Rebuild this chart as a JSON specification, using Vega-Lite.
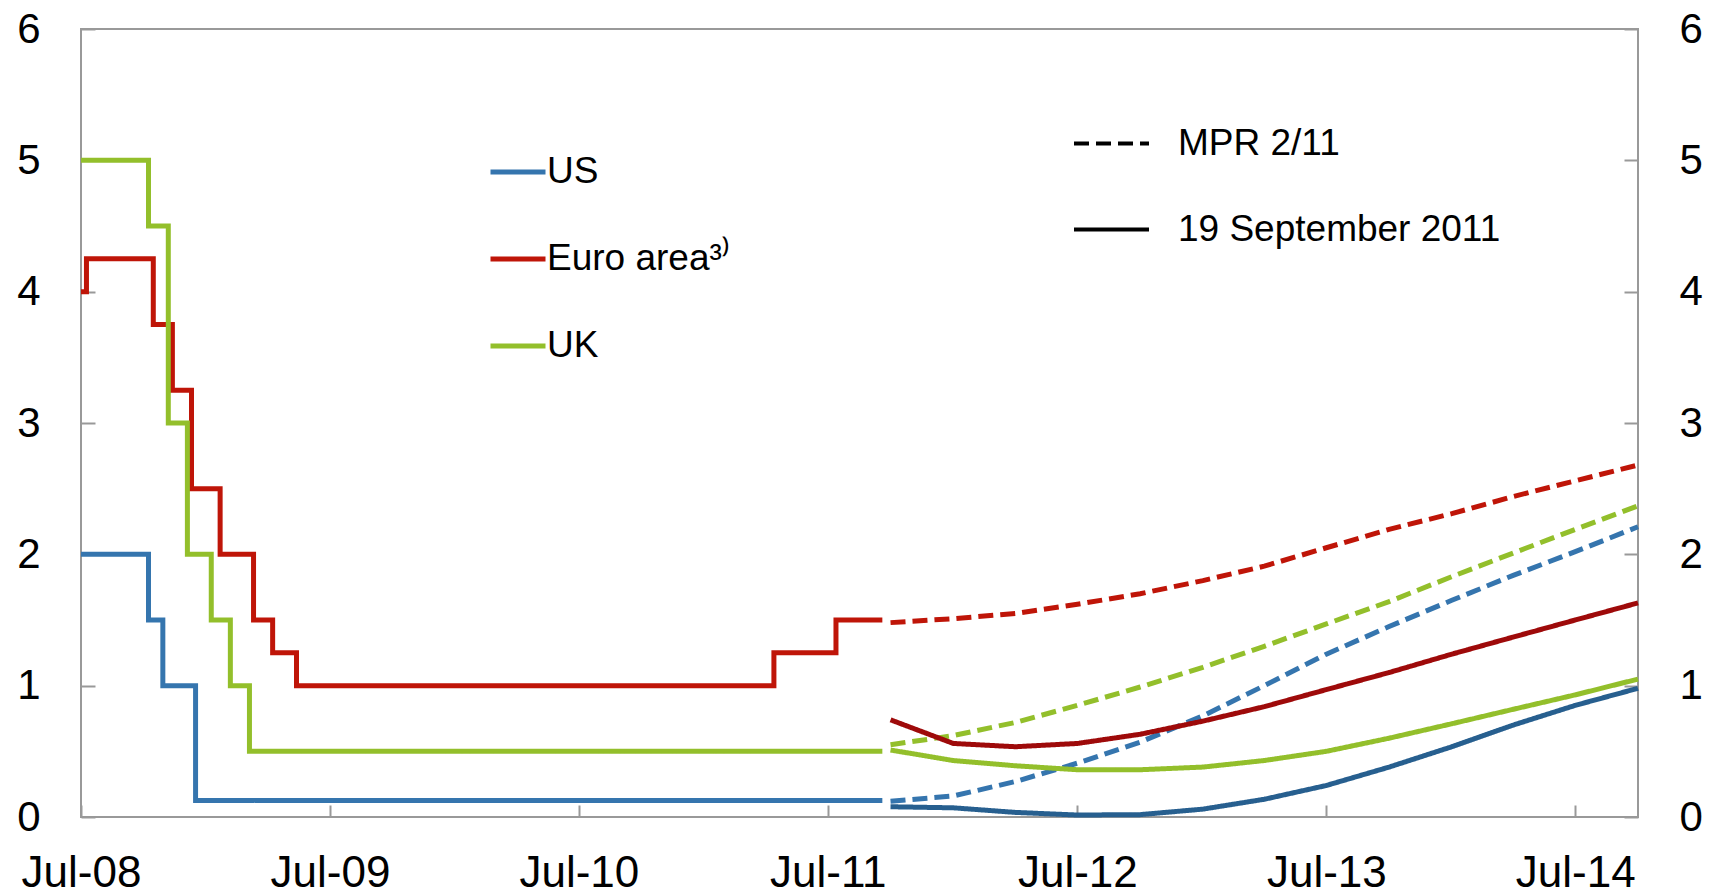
{
  "$schema": "https://vega.github.io/schema/vega-lite/v6.json",
  "width": 1557,
  "height": 788,
  "autosize": {"type": "none"},
  "padding": {"left": 81, "top": 29, "right": 72, "bottom": 79},
  "config": {
    "font": "Liberation Sans",
    "view": {"stroke": "#999999", "strokeWidth": 2},
    "axis": {
      "labelFont": "Liberation Sans",
      "labelColor": "black",
      "tickColor": "#999999",
      "tickWidth": 2,
      "domain": false,
      "grid": false,
      "title": null,
      "labelOverlap": false,
      "labelFlush": false
    },
    "legend": {
      "labelFont": "Liberation Sans",
      "labelFontSize": 37,
      "labelColor": "black",
      "labelLimit": 0,
      "padding": 0,
      "title": null,
      "orient": "none",
      "symbolType": "stroke"
    }
  },
  "data": {
    "values": [
      {"date": "2008-07-01", "value": 2.0, "c": "US", "s": "History"},
      {"date": "2008-10-08", "value": 1.5, "c": "US", "s": "History"},
      {"date": "2008-10-29", "value": 1.0, "c": "US", "s": "History"},
      {"date": "2008-12-16", "value": 0.125, "c": "US", "s": "History"},
      {"date": "2011-09-19", "value": 0.125, "c": "US", "s": "History"},
      {"date": "2008-07-01", "value": 4.0, "c": "Euro area³⁾", "s": "History"},
      {"date": "2008-07-09", "value": 4.25, "c": "Euro area³⁾", "s": "History"},
      {"date": "2008-10-15", "value": 3.75, "c": "Euro area³⁾", "s": "History"},
      {"date": "2008-11-12", "value": 3.25, "c": "Euro area³⁾", "s": "History"},
      {"date": "2008-12-10", "value": 2.5, "c": "Euro area³⁾", "s": "History"},
      {"date": "2009-01-21", "value": 2.0, "c": "Euro area³⁾", "s": "History"},
      {"date": "2009-03-11", "value": 1.5, "c": "Euro area³⁾", "s": "History"},
      {"date": "2009-04-08", "value": 1.25, "c": "Euro area³⁾", "s": "History"},
      {"date": "2009-05-13", "value": 1.0, "c": "Euro area³⁾", "s": "History"},
      {"date": "2011-04-13", "value": 1.25, "c": "Euro area³⁾", "s": "History"},
      {"date": "2011-07-13", "value": 1.5, "c": "Euro area³⁾", "s": "History"},
      {"date": "2011-09-19", "value": 1.5, "c": "Euro area³⁾", "s": "History"},
      {"date": "2008-07-01", "value": 5.0, "c": "UK", "s": "History"},
      {"date": "2008-10-08", "value": 4.5, "c": "UK", "s": "History"},
      {"date": "2008-11-06", "value": 3.0, "c": "UK", "s": "History"},
      {"date": "2008-12-04", "value": 2.0, "c": "UK", "s": "History"},
      {"date": "2009-01-08", "value": 1.5, "c": "UK", "s": "History"},
      {"date": "2009-02-05", "value": 1.0, "c": "UK", "s": "History"},
      {"date": "2009-03-05", "value": 0.5, "c": "UK", "s": "History"},
      {"date": "2011-09-19", "value": 0.5, "c": "UK", "s": "History"},

      {"date": "2011-10-01", "value": 1.48, "c": "Euro area³⁾", "s": "MPR 2/11"},
      {"date": "2012-01-01", "value": 1.51, "c": "Euro area³⁾", "s": "MPR 2/11"},
      {"date": "2012-04-01", "value": 1.55, "c": "Euro area³⁾", "s": "MPR 2/11"},
      {"date": "2012-07-01", "value": 1.62, "c": "Euro area³⁾", "s": "MPR 2/11"},
      {"date": "2012-10-01", "value": 1.70, "c": "Euro area³⁾", "s": "MPR 2/11"},
      {"date": "2013-01-01", "value": 1.80, "c": "Euro area³⁾", "s": "MPR 2/11"},
      {"date": "2013-04-01", "value": 1.91, "c": "Euro area³⁾", "s": "MPR 2/11"},
      {"date": "2013-07-01", "value": 2.05, "c": "Euro area³⁾", "s": "MPR 2/11"},
      {"date": "2013-10-01", "value": 2.19, "c": "Euro area³⁾", "s": "MPR 2/11"},
      {"date": "2014-01-01", "value": 2.31, "c": "Euro area³⁾", "s": "MPR 2/11"},
      {"date": "2014-04-01", "value": 2.44, "c": "Euro area³⁾", "s": "MPR 2/11"},
      {"date": "2014-07-01", "value": 2.56, "c": "Euro area³⁾", "s": "MPR 2/11"},
      {"date": "2014-10-01", "value": 2.68, "c": "Euro area³⁾", "s": "MPR 2/11"},

      {"date": "2011-10-01", "value": 0.55, "c": "UK", "s": "MPR 2/11"},
      {"date": "2012-01-01", "value": 0.62, "c": "UK", "s": "MPR 2/11"},
      {"date": "2012-04-01", "value": 0.72, "c": "UK", "s": "MPR 2/11"},
      {"date": "2012-07-01", "value": 0.85, "c": "UK", "s": "MPR 2/11"},
      {"date": "2012-10-01", "value": 0.99, "c": "UK", "s": "MPR 2/11"},
      {"date": "2013-01-01", "value": 1.14, "c": "UK", "s": "MPR 2/11"},
      {"date": "2013-04-01", "value": 1.30, "c": "UK", "s": "MPR 2/11"},
      {"date": "2013-07-01", "value": 1.47, "c": "UK", "s": "MPR 2/11"},
      {"date": "2013-10-01", "value": 1.64, "c": "UK", "s": "MPR 2/11"},
      {"date": "2014-01-01", "value": 1.83, "c": "UK", "s": "MPR 2/11"},
      {"date": "2014-04-01", "value": 2.01, "c": "UK", "s": "MPR 2/11"},
      {"date": "2014-07-01", "value": 2.19, "c": "UK", "s": "MPR 2/11"},
      {"date": "2014-10-01", "value": 2.37, "c": "UK", "s": "MPR 2/11"},

      {"date": "2011-10-01", "value": 0.12, "c": "US", "s": "MPR 2/11"},
      {"date": "2012-01-01", "value": 0.16, "c": "US", "s": "MPR 2/11"},
      {"date": "2012-04-01", "value": 0.27, "c": "US", "s": "MPR 2/11"},
      {"date": "2012-07-01", "value": 0.41, "c": "US", "s": "MPR 2/11"},
      {"date": "2012-10-01", "value": 0.57, "c": "US", "s": "MPR 2/11"},
      {"date": "2013-01-01", "value": 0.77, "c": "US", "s": "MPR 2/11"},
      {"date": "2013-04-01", "value": 1.0, "c": "US", "s": "MPR 2/11"},
      {"date": "2013-07-01", "value": 1.24, "c": "US", "s": "MPR 2/11"},
      {"date": "2013-10-01", "value": 1.45, "c": "US", "s": "MPR 2/11"},
      {"date": "2014-01-01", "value": 1.65, "c": "US", "s": "MPR 2/11"},
      {"date": "2014-04-01", "value": 1.84, "c": "US", "s": "MPR 2/11"},
      {"date": "2014-07-01", "value": 2.02, "c": "US", "s": "MPR 2/11"},
      {"date": "2014-10-01", "value": 2.21, "c": "US", "s": "MPR 2/11"},

      {"date": "2011-10-01", "value": 0.74, "c": "Euro (Sep)", "s": "19 September 2011"},
      {"date": "2012-01-01", "value": 0.56, "c": "Euro (Sep)", "s": "19 September 2011"},
      {"date": "2012-04-01", "value": 0.535, "c": "Euro (Sep)", "s": "19 September 2011"},
      {"date": "2012-07-01", "value": 0.56, "c": "Euro (Sep)", "s": "19 September 2011"},
      {"date": "2012-10-01", "value": 0.63, "c": "Euro (Sep)", "s": "19 September 2011"},
      {"date": "2013-01-01", "value": 0.73, "c": "Euro (Sep)", "s": "19 September 2011"},
      {"date": "2013-04-01", "value": 0.84, "c": "Euro (Sep)", "s": "19 September 2011"},
      {"date": "2013-07-01", "value": 0.97, "c": "Euro (Sep)", "s": "19 September 2011"},
      {"date": "2013-10-01", "value": 1.10, "c": "Euro (Sep)", "s": "19 September 2011"},
      {"date": "2014-01-01", "value": 1.24, "c": "Euro (Sep)", "s": "19 September 2011"},
      {"date": "2014-04-01", "value": 1.37, "c": "Euro (Sep)", "s": "19 September 2011"},
      {"date": "2014-07-01", "value": 1.50, "c": "Euro (Sep)", "s": "19 September 2011"},
      {"date": "2014-10-01", "value": 1.63, "c": "Euro (Sep)", "s": "19 September 2011"},

      {"date": "2011-10-01", "value": 0.51, "c": "UK (Sep)", "s": "19 September 2011"},
      {"date": "2012-01-01", "value": 0.43, "c": "UK (Sep)", "s": "19 September 2011"},
      {"date": "2012-04-01", "value": 0.39, "c": "UK (Sep)", "s": "19 September 2011"},
      {"date": "2012-07-01", "value": 0.36, "c": "UK (Sep)", "s": "19 September 2011"},
      {"date": "2012-10-01", "value": 0.36, "c": "UK (Sep)", "s": "19 September 2011"},
      {"date": "2013-01-01", "value": 0.38, "c": "UK (Sep)", "s": "19 September 2011"},
      {"date": "2013-04-01", "value": 0.43, "c": "UK (Sep)", "s": "19 September 2011"},
      {"date": "2013-07-01", "value": 0.50, "c": "UK (Sep)", "s": "19 September 2011"},
      {"date": "2013-10-01", "value": 0.60, "c": "UK (Sep)", "s": "19 September 2011"},
      {"date": "2014-01-01", "value": 0.71, "c": "UK (Sep)", "s": "19 September 2011"},
      {"date": "2014-04-01", "value": 0.82, "c": "UK (Sep)", "s": "19 September 2011"},
      {"date": "2014-07-01", "value": 0.93, "c": "UK (Sep)", "s": "19 September 2011"},
      {"date": "2014-10-01", "value": 1.05, "c": "UK (Sep)", "s": "19 September 2011"},

      {"date": "2011-10-01", "value": 0.078, "c": "US (Sep)", "s": "19 September 2011"},
      {"date": "2012-01-01", "value": 0.07, "c": "US (Sep)", "s": "19 September 2011"},
      {"date": "2012-04-01", "value": 0.035, "c": "US (Sep)", "s": "19 September 2011"},
      {"date": "2012-07-01", "value": 0.015, "c": "US (Sep)", "s": "19 September 2011"},
      {"date": "2012-10-01", "value": 0.018, "c": "US (Sep)", "s": "19 September 2011"},
      {"date": "2013-01-01", "value": 0.06, "c": "US (Sep)", "s": "19 September 2011"},
      {"date": "2013-04-01", "value": 0.135, "c": "US (Sep)", "s": "19 September 2011"},
      {"date": "2013-07-01", "value": 0.24, "c": "US (Sep)", "s": "19 September 2011"},
      {"date": "2013-10-01", "value": 0.38, "c": "US (Sep)", "s": "19 September 2011"},
      {"date": "2014-01-01", "value": 0.535, "c": "US (Sep)", "s": "19 September 2011"},
      {"date": "2014-04-01", "value": 0.70, "c": "US (Sep)", "s": "19 September 2011"},
      {"date": "2014-07-01", "value": 0.85, "c": "US (Sep)", "s": "19 September 2011"},
      {"date": "2014-10-01", "value": 0.98, "c": "US (Sep)", "s": "19 September 2011"}
    ]
  },
  "encoding": {
    "x": {
      "field": "date",
      "type": "temporal",
      "scale": {
        "type": "utc",
        "domain": [
          {"year": 2008, "month": 7, "date": 1, "utc": true},
          {"year": 2014, "month": 10, "date": 1, "utc": true}
        ]
      },
      "axis": {
        "values": [
          {"year": 2008, "month": 7, "date": 1, "utc": true},
          {"year": 2009, "month": 7, "date": 1, "utc": true},
          {"year": 2010, "month": 7, "date": 1, "utc": true},
          {"year": 2011, "month": 7, "date": 1, "utc": true},
          {"year": 2012, "month": 7, "date": 1, "utc": true},
          {"year": 2013, "month": 7, "date": 1, "utc": true},
          {"year": 2014, "month": 7, "date": 1, "utc": true}
        ],
        "labelExpr": "utcFormat(datum.value, '%b-%y')",
        "labelFontSize": 44,
        "tickSize": -12,
        "labelPadding": 46
      }
    },
    "color": {
      "field": "c",
      "type": "nominal",
      "scale": {
        "domain": ["US", "Euro area³⁾", "UK", "US (Sep)", "Euro (Sep)", "UK (Sep)"],
        "range": ["#3575AE", "#BF1508", "#93BF2B", "#275F8F", "#9E0A0A", "#93BF2B"]
      },
      "legend": {
        "values": ["US", "Euro area³⁾", "UK"],
        "legendX": 407,
        "legendY": 113,
        "symbolSize": 3025,
        "symbolStrokeWidth": 5,
        "rowPadding": 39,
        "labelOffset": -1
      }
    },
    "strokeDash": {
      "field": "s",
      "type": "nominal",
      "scale": {
        "domain": ["MPR 2/11", "19 September 2011", "History"],
        "range": [[15, 7], [1, 0], [1, 0]]
      },
      "legend": {
        "values": ["MPR 2/11", "19 September 2011"],
        "legendX": 991,
        "legendY": 75,
        "symbolSize": 5625,
        "symbolStrokeWidth": 4,
        "symbolStrokeColor": "black",
        "rowPadding": 28,
        "labelOffset": 27
      }
    }
  },
  "resolve": {"axis": {"y": "independent"}},
  "layer": [
    {
      "transform": [{"filter": "datum.s === 'History'"}],
      "mark": {"type": "line", "interpolate": "step-after", "strokeWidth": 5},
      "encoding": {
        "y": {
          "field": "value",
          "type": "quantitative",
          "scale": {"domain": [0, 6], "nice": false},
          "axis": {
            "orient": "left",
            "values": [0, 1, 2, 3, 4, 5, 6],
            "labelFontSize": 42,
            "tickSize": -14,
            "labelPadding": 55
          }
        }
      }
    },
    {
      "transform": [{"filter": "datum.s !== 'History'"}],
      "mark": {"type": "line", "strokeWidth": 5},
      "encoding": {
        "y": {
          "field": "value",
          "type": "quantitative",
          "scale": {"domain": [0, 6], "nice": false},
          "axis": {
            "orient": "right",
            "values": [0, 1, 2, 3, 4, 5, 6],
            "labelFontSize": 42,
            "tickSize": -14,
            "labelPadding": 55
          }
        }
      }
    }
  ]
}
